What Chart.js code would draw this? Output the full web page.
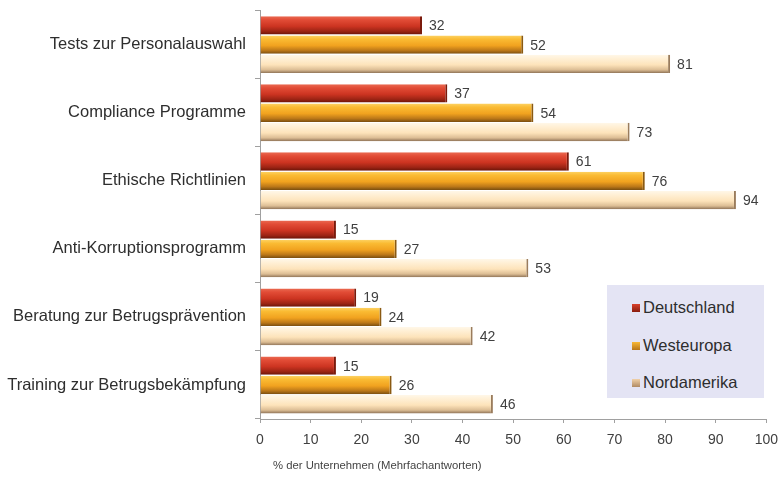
<!DOCTYPE html>
<html><head><meta charset="utf-8">
<script src="https://cdn.jsdelivr.net/npm/chart.js@4.4.1/dist/chart.umd.min.js"></script>
<style>
html,body{margin:0;padding:0;background:#fff;}
#wrap{position:relative;width:782px;height:485px;}
#legend{position:absolute;left:607px;top:285px;width:157px;height:113px;background:#e4e4f4;font-family:"Liberation Sans",Arial,sans-serif;font-size:16.5px;color:#2e2e2e;}
.item{position:absolute;left:25px;height:20px;line-height:20px;white-space:nowrap;}
.sw{display:inline-block;width:8px;height:8px;margin-right:3px;vertical-align:1px;}
</style></head>
<body><div id="wrap"><canvas id="c" width="782" height="485"></canvas><div id="legend"></div></div>
<script>
const categories = ['Tests zur Personalauswahl','Compliance Programme','Ethische Richtlinien','Anti-Korruptionsprogramm','Beratung zur Betrugsprävention','Training zur Betrugsbekämpfung'];
const deutschland = [32,37,61,15,19,15];
const westeuropa = [52,54,76,27,24,26];
const nordamerika = [81,73,94,53,42,46];
const seriesNames = ['Deutschland','Westeuropa','Nordamerika'];
const xTickValues = [0,10,20,30,40,50,60,70,80,90,100];
const axisTitle = '% der Unternehmen (Mehrfachantworten)';

const FONT = '"Liberation Sans", Arial, sans-serif';
Chart.defaults.font.family = FONT;

const palettes = [
 [[0,'#ea6a52'],[0.2,'#e24c36'],[0.55,'#cc3421'],[0.82,'#9c2414'],[1,'#6a1408']],
 [[0,'#fdd263'],[0.2,'#fabb33'],[0.55,'#f1a21f'],[0.82,'#bb7718'],[1,'#7a4e10']],
 [[0,'#fff7e8'],[0.2,'#fff0d6'],[0.55,'#fde3ba'],[0.82,'#dcbd94'],[1,'#8e7256']]
];
const mids = ['#cc3421','#f1a21f','#fde3ba'];
const edges = ['#7a1a0c','#8a5a12','#9a7c5c'];

const gradientPlugin = {
  id:'grad',
  beforeDatasetsDraw(chart){
    const ctx = chart.ctx;
    chart.data.datasets.forEach((ds,i)=>{
      const meta = chart.getDatasetMeta(i);
      meta.data.forEach(el=>{
        const top = el.y - el.height/2, bot = el.y + el.height/2;
        const g = ctx.createLinearGradient(0,top,0,bot);
        palettes[i].forEach(([o,c])=>g.addColorStop(o,c));
        el.options.backgroundColor = g;
      });
    });
  }
};
const valuePlugin = {
  id:'vals',
  afterDatasetsDraw(chart){
    const ctx = chart.ctx;
    ctx.save();
    ctx.font = '14px ' + FONT;
    ctx.fillStyle = '#404040';
    ctx.textBaseline = 'middle';
    ctx.textAlign = 'left';
    chart.data.datasets.forEach((ds,i)=>{
      chart.getDatasetMeta(i).data.forEach((el,j)=>{
        ctx.fillText(String(ds.data[j]), el.x + 7, el.y + 1);
      });
    });
    ctx.restore();
  }
};
const titlePlugin = {
  id:'xt',
  afterDraw(chart){
    const ctx = chart.ctx;
    ctx.save();
    ctx.font = '11.3px ' + FONT;
    ctx.fillStyle = '#444';
    ctx.textBaseline = 'middle';
    ctx.textAlign = 'left';
    ctx.fillText(axisTitle, chart.chartArea.left + 13, 466);
    ctx.restore();
  }
};

const seriesData = [deutschland, westeuropa, nordamerika];
new Chart(document.getElementById('c'), {
  type:'bar',
  data:{
    labels: categories,
    datasets: seriesData.map((d,i)=>({
      label: seriesNames[i],
      data: d,
      backgroundColor: () => mids[i],
      borderColor: edges[i],
      borderWidth: {top:0,left:0,bottom:0,right:2},
      borderSkipped: false,
      categoryPercentage: 0.85,
      barPercentage: 0.95
    }))
  },
  options:{
    indexAxis:'y',
    responsive:false,
    animation:false,
    devicePixelRatio:1,
    layout:{padding:{top:10,right:12,left:0,bottom:0}},
    plugins:{legend:{display:false},tooltip:{enabled:false}},
    scales:{
      x:{
        min:0,max:100,
        afterBuildTicks(s){ s.ticks = xTickValues.map(v=>({value:v})); },
        ticks:{color:'#404040',font:{size:14,lineHeight:1.86},padding:4},
        grid:{drawOnChartArea:false,drawTicks:true,tickLength:4,color:'#a0a0a0'},
        border:{color:'#a0a0a0',width:1},
        afterFit(s){ s.height = 66; }
      },
      y:{
        ticks:{color:'#2e2e2e',font:{size:16.5,lineHeight:0.2},padding:9},
        grid:{drawOnChartArea:false,drawTicks:true,tickLength:5,color:'#a0a0a0',offset:true},
        border:{color:'#a0a0a0',width:1},
        afterFit(s){ s.width = 260; }
      }
    }
  },
  plugins:[gradientPlugin, valuePlugin, titlePlugin]
});

const legendEl = document.getElementById('legend');
const swatch = ['linear-gradient(#d8402c,#8a1c0e)','linear-gradient(#f8b838,#b8761a)','linear-gradient(#f0d0a8,#b08a64)'];
const tops = [12,50,87];
seriesNames.forEach((n,i)=>{
  const d = document.createElement('div');
  d.className = 'item';
  d.style.top = tops[i] + 'px';
  d.innerHTML = '<span class="sw" style="background:'+swatch[i]+'"></span>' + n;
  legendEl.appendChild(d);
});
</script>
</body></html>
